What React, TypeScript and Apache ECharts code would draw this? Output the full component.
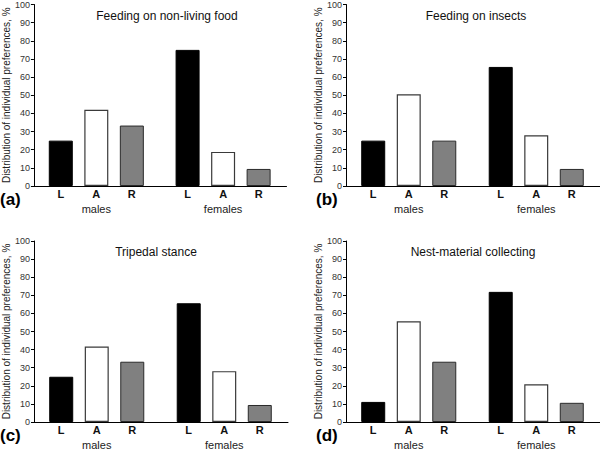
import React, { useEffect, useRef } from "react";
import * as echarts from "echarts";

const sides = ["L", "A", "R"];
const sexes = ["males", "females"];
const panelTitles = ["Feeding on non-living food", "Feeding on insects", "Tripedal stance", "Nest-material collecting"];
const panelLetters = ["(a)", "(b)", "(c)", "(d)"];
const yTicks = [0, 100, 10];

const nonLivingMales = [25, 42, 33.3];
const nonLivingFemales = [75, 18.8, 9.4];
const insectsMales = [25, 50.5, 25];
const insectsFemales = [65.6, 28, 9.4];
const tripedalMales = [25, 41.7, 33.3];
const tripedalFemales = [65.6, 28.1, 9.4];
const nestMales = [11.1, 55.6, 33.3];
const nestFemales = [71.9, 20.8, 10.6];

const maleSets = [nonLivingMales, insectsMales, tripedalMales, nestMales];
const femaleSets = [nonLivingFemales, insectsFemales, tripedalFemales, nestFemales];

const FONT = "Liberation Sans, Arial, sans-serif";

// layout (positions only)
const grids = [
  { left: 28.5, top: 4, width: 258, height: 182 },
  { left: 345, top: 4, width: 258, height: 182 },
  { left: 30, top: 241, width: 258, height: 183 },
  { left: 345, top: 241, width: 258, height: 183 },
];
const yOffsets = [-1, -1, -1, -1];
const titlePos = [
  { x: 162, y: 5 },
  { x: 471, y: 5 },
  { x: 151, y: 241 },
  { x: 468, y: 241 },
];
const letterPos = [
  { x: 0, y: 191 },
  { x: 316, y: 191 },
  { x: 0, y: 427 },
  { x: 316, y: 427 },
];
const nameGaps = [22, 23, 23, 23];

const sideStyles = [
  { color: "#000000", borderColor: "#000000", borderWidth: 1 },
  { color: "#ffffff", borderColor: "#3a3a3a", borderWidth: 1.2 },
  { color: "#808080", borderColor: "#2a2a2a", borderWidth: 1 },
];

export default function App() {
  const ref = useRef<HTMLDivElement>(null);
  useEffect(() => {
    if (!ref.current) return;
    const chart = echarts.init(ref.current, null, { renderer: "svg" });
    const series: any[] = [];
    maleSets.forEach((males, i) => {
      const females = femaleSets[i];
      sides.forEach((s, j) => {
        series.push({
          type: "bar",
          name: s,
          xAxisIndex: i,
          yAxisIndex: i,
          data: [males[j], females[j]],
          barWidth: 24,
          barGap: "48%",
          itemStyle: sideStyles[j],
          label: {
            show: true,
            position: "bottom",
            distance: 2,
            formatter: s,
            fontFamily: FONT,
            fontWeight: "bold",
            fontSize: 11,
            color: "#111",
          },
        });
      });
    });
    chart.setOption({
      animation: false,
      backgroundColor: "#ffffff",
      title: panelTitles.map((t, i) => ({
        text: t,
        left: titlePos[i].x,
        top: titlePos[i].y,
        textAlign: "center",
        textStyle: { fontFamily: FONT, fontSize: 12, fontWeight: "normal", color: "#111" },
      })),
      graphic: panelLetters.map((t, i) => ({
        type: "text",
        left: letterPos[i].x,
        top: letterPos[i].y,
        style: { text: t, fontFamily: FONT, fontSize: 17, fontWeight: "bold", fill: "#000" },
      })),
      grid: grids,
      xAxis: grids.map((_, i) => ({
        type: "category",
        gridIndex: i,
        data: sexes,
        axisLine: { show: true, lineStyle: { color: "#000", width: 1 } },
        axisTick: { show: false },
        axisLabel: { margin: 17, fontFamily: FONT, fontSize: 11, color: "#222" },
      })),
      yAxis: grids.map((_, i) => ({
        type: "value",
        gridIndex: i,
        offset: yOffsets[i],
        min: yTicks[0],
        max: yTicks[1],
        interval: yTicks[2],
        name: "Distribution of individual preferences, %",
        nameLocation: "middle",
        nameRotate: 90,
        nameGap: nameGaps[i],
        nameTextStyle: { fontFamily: FONT, fontSize: 10, color: "#222" },
        axisLine: { show: true, lineStyle: { color: "#000", width: 1 } },
        axisTick: { show: true, length: 3, inside: false, lineStyle: { color: "#000" } },
        axisLabel: { margin: 4, fontFamily: FONT, fontSize: 9, color: "#333" },
        splitLine: { show: false },
      })),
      series,
    });
    return () => chart.dispose();
  }, []);
  return <div ref={ref} style={{ position: "absolute", left: 0, top: 0, width: 600, height: 450 }} />;
}
